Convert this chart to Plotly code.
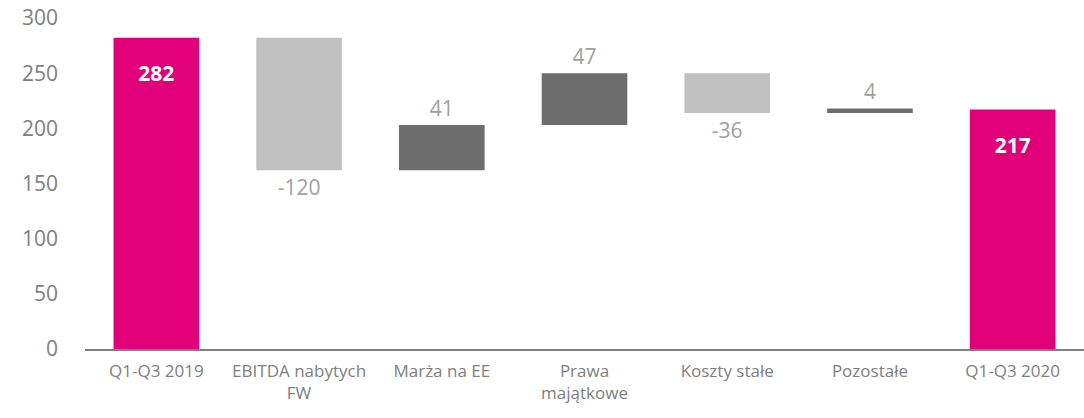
import plotly.graph_objects as go

categories = ["Q1-Q3 2019", "EBITDA nabytych<br>FW", "Marża na EE", "Prawa<br>majątkowe",
              "Koszty stałe", "Pozostałe", "Q1-Q3 2020"]
values = [282, -120, 41, 47, -36, 4, 217]
measures = ["absolute", "relative", "relative", "relative", "relative", "relative", "absolute"]
labels = ["<span style='font-size:12px'>&nbsp;</span><br><b>282</b>", "-120", "41", "47", "-36", "4",
          "<span style='font-size:12px'>&nbsp;</span><br><b>217</b>"]

MAGENTA = "#e2007a"
DARK = "#6d6d6d"
LIGHT = "#c0c0c0"
FONT = "Open Sans"

positions = ["inside" if m == "absolute" else "outside" for m in measures]
text_colors = ["#ffffff" if m == "absolute" else "#a0a0a0" for m in measures]

fig = go.Figure(go.Waterfall(
    x=categories,
    y=values,
    measure=measures,
    text=labels,
    textposition=positions,
    insidetextanchor="end",
    textfont=dict(family=FONT, size=21, color=text_colors),
    constraintext="none",
    increasing=dict(marker=dict(color=DARK)),
    decreasing=dict(marker=dict(color=LIGHT)),
    totals=dict(marker=dict(color=MAGENTA)),
    connector=dict(visible=False),
    width=0.6,
    cliponaxis=False,
))

fig.update_layout(
    width=1084, height=418,
    margin=dict(l=85, r=0, t=18, b=69),
    plot_bgcolor="white", paper_bgcolor="white",
    showlegend=False,
    font=dict(family=FONT, color="#808080"),
    yaxis=dict(range=[0, 300], dtick=50, showgrid=False, zeroline=False, showline=False,
               tickfont=dict(size=21, color="#808080"), ticks="", ticklabelstandoff=26,
               ticklabeloverflow="allow", automargin=False),
    xaxis=dict(showline=True, linecolor="#808080", linewidth=1.5, ticks="",
               tickfont=dict(size=17, color="#808080"), automargin=False,
               ticklabelstandoff=6),
)

fig.write_html("out.html", config={"displayModeBar": False},
               post_script="document.body.style.margin='0px';")
